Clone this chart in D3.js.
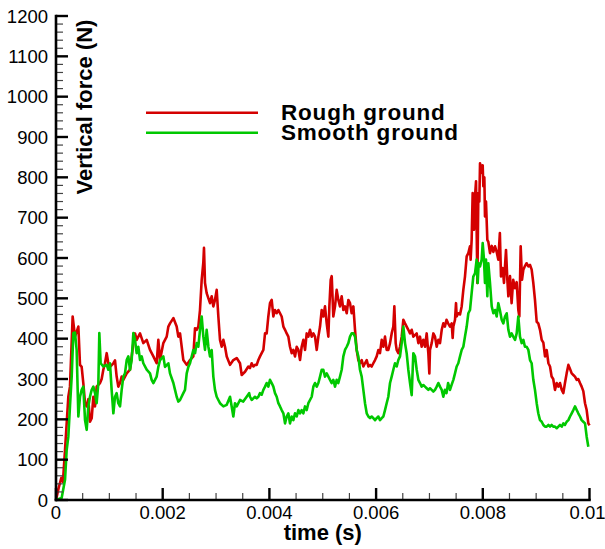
<!DOCTYPE html>
<html>
<head>
<meta charset="utf-8">
<script src="https://cdn.jsdelivr.net/npm/d3@7"></script>
<style>
  html, body { margin: 0; padding: 0; background: #fff; }
  svg { display: block; font-family: "Liberation Sans", Arial, Helvetica, sans-serif; }
</style>
</head>
<body>
<svg id="chart" width="605" height="549"></svg>
<script>
// ---- data (time in ms, force in N) ----
const seriesNames = ["Rough ground", "Smooth ground"];
const seriesColors = ["#d40000", "#00c800"];

const roughTime = [0,0.05,0.1,0.13,0.169,0.231,0.262,0.312,0.356,0.419,0.45,0.481,0.512,0.544,0.575,0.606,0.637,0.669,0.7,0.731,0.762,0.825,0.856,0.887,0.918,0.95,0.981,1.012,1.075,1.106,1.137,1.168,1.2,1.231,1.262,1.325,1.387,1.45,1.481,1.512,1.575,1.637,1.7,1.762,1.825,1.887,1.918,1.95,2.012,2.075,2.106,2.137,2.2,2.262,2.293,2.325,2.356,2.387,2.45,2.512,2.574,2.606,2.637,2.668,2.699,2.731,2.762,2.774,2.793,2.824,2.887,2.918,2.949,2.98,3.012,3.043,3.074,3.106,3.137,3.168,3.2,3.262,3.324,3.387,3.449,3.481,3.543,3.605,
3.636,3.668,3.699,3.73,3.762,3.793,3.824,3.855,3.887,3.918,3.949,3.98,4.011,4.043,4.074,4.105,4.137,4.168,4.199,4.23,4.262,4.293,4.324,4.355,4.386,4.418,4.449,4.48,4.512,4.543,4.574,4.605,4.637,4.668,4.699,4.73,4.761,4.793,4.824,4.855,4.887,4.918,4.949,4.98,5.011,5.042,5.074,5.105,5.124,5.149,5.168,5.198,5.23,5.261,5.292,5.323,5.355,5.386,5.417,5.449,5.48,5.511,5.542,5.574,5.605,5.636,5.667,5.698,5.73,5.761,5.792,5.824,5.855,5.886,5.917,5.948,5.98,6.011,6.042,6.073,6.105,6.136,6.167,6.198,6.229,6.261,6.292,6.323,6.342,6.367,6.386,6.417,6.448,6.48,6.511,6.542,6.573,6.604,6.636,6.667,6.698,6.761,6.792,6.823,6.854,6.885,6.917,6.948,6.979,6.998,7.01,7.042,7.073,7.104,7.136,7.167,
7.198,7.23,7.26,7.29,7.32,7.35,7.385,7.417,7.435,7.448,7.479,7.498,7.51,7.541,7.573,7.604,7.635,7.666,7.698,7.729,7.76,7.772,7.791,7.81,7.835,7.854,7.873,7.898,7.917,7.935,7.948,7.979,7.998,8.01,8.029,8.041,8.06,8.085,8.104,8.135,8.167,8.198,8.229,8.26,8.291,8.32,8.341,8.373,8.397,8.435,8.46,8.479,8.51,8.54,8.57,8.604,8.635,8.666,8.685,8.71,8.735,8.76,8.79,8.82,8.854,8.885,8.916,8.947,8.978,9.01,9.04,9.072,9.104,9.135,9.166,9.197,9.23,9.26,9.29,9.32,9.353,9.385,9.416,9.447,9.48,9.51,9.54,9.572,9.604,9.635,9.666,9.697,9.728,9.76,9.79,9.822,9.853,9.884,9.916,9.947,9.978,10];
const roughForce = [0,30,55,45,124,256,281,455,405,430,335,330,290,240,232,250,194,203,256,232,281,290,300,323,339,364,339,330,339,346,306,281,290,306,298,314,323,389,413,397,413,389,397,372,356,339,397,347,389,405,430,438,451,430,405,413,380,347,335,347,356,426,422,430,471,546,590,625,538,513,488,505,480,496,521,455,397,380,397,380,356,335,347,352,339,310,318,331,
327,339,331,335,335,347,356,364,372,413,413,455,488,496,455,471,463,471,463,455,430,422,413,405,380,364,372,356,380,372,347,380,397,372,413,405,422,405,413,405,372,405,430,471,455,480,438,405,480,546,555,455,480,521,496,480,505,471,480,463,496,488,463,480,422,372,347,339,347,331,339,347,331,335,331,339,347,356,372,364,397,380,405,372,372,389,413,430,480,389,372,364,380,405,447,438,430,422,413,422,405,413,389,405,380,397,380,413,364,314,372,389,413,405,380,397,
389,422,438,430,447,438,430,438,402,430,447,488,455,463,460,480,521,554,604,612,629,596,645,761,670,753,790,538,761,740,835,811,830,778,800,703,740,645,640,612,630,615,629,615,596,662,554,575,538,620,546,505,555,488,546,525,540,471,455,629,546,571,580,587,579,583,571,538,496,442,438,422,397,390,356,372,339,331,306,300,273,290,281,290,273,265,290,314,335,325,314,310,306,298,300,290,281,270,240,223,190,185];

const smoothTime = [0,0.106,0.169,0.2,0.231,0.262,0.294,0.325,0.356,0.387,0.419,0.45,0.481,0.512,0.544,0.575,0.606,0.637,0.669,0.7,0.731,0.762,0.794,0.812,0.837,0.887,0.95,0.981,1.012,1.043,1.075,1.106,1.137,1.168,1.2,1.231,1.262,1.293,1.325,1.356,1.387,1.418,1.45,1.481,1.512,1.543,1.575,1.606,1.637,1.7,1.762,1.793,1.825,1.856,1.887,1.918,1.95,2.012,2.043,2.106,2.137,2.2,2.231,2.262,2.293,2.325,2.387,2.418,2.45,2.481,2.512,2.574,2.606,2.637,2.668,2.699,2.731,2.762,2.793,2.824,2.856,2.887,2.918,2.949,2.98,3.012,3.043,3.074,3.137,3.2,3.262,3.293,3.324,3.355,3.387,3.449,3.51,3.574,3.62,
3.636,3.668,3.699,3.73,3.762,3.793,3.824,3.855,3.887,3.918,3.949,3.98,4.011,4.043,4.074,4.105,4.137,4.168,4.199,4.23,4.262,4.293,4.324,4.355,4.386,4.418,4.449,4.48,4.512,4.543,4.574,4.605,4.637,4.668,4.699,4.73,4.761,4.793,4.824,4.855,4.887,4.918,4.949,4.98,5.011,5.042,5.074,5.105,5.136,5.168,5.198,5.23,5.261,5.292,5.323,5.355,5.386,5.417,5.449,5.48,5.511,5.542,5.574,5.605,5.636,5.667,5.698,5.73,5.761,5.792,5.824,5.855,5.886,5.917,5.948,5.98,6.011,6.042,6.073,6.105,6.136,6.167,6.198,6.229,6.261,6.292,6.323,6.354,6.386,6.417,6.448,6.48,6.511,6.542,6.573,6.604,6.636,6.667,6.698,6.73,6.761,6.792,6.823,6.854,6.885,6.917,6.948,6.979,7.01,7.042,7.073,7.104,7.136,
7.167,7.198,7.23,7.26,7.29,7.32,7.35,7.385,7.417,7.448,7.479,7.51,7.541,7.573,7.604,7.635,7.666,7.698,7.729,7.76,7.791,7.822,7.854,7.885,7.904,7.923,7.948,7.979,7.998,8.022,8.041,8.06,8.085,8.104,8.135,8.167,8.198,8.229,8.26,8.291,8.32,8.354,8.385,8.416,8.448,8.479,8.51,8.54,8.57,8.604,8.635,8.666,8.697,8.729,8.76,8.79,8.82,8.854,8.885,8.916,8.947,8.978,9.01,9.04,9.072,9.104,9.135,9.166,9.197,9.23,9.26,9.29,9.32,9.353,9.385,9.416,9.447,9.48,9.51,9.54,9.572,9.604,9.635,9.666,9.697,9.728,9.76,9.79,9.822,9.853,9.884,9.916,9.947,9.978];
const smoothForce = [0,5,50,124,157,232,306,414,415,372,207,256,273,281,198,174,232,256,273,281,265,240,290,414,339,331,335,323,339,273,215,256,265,240,232,273,306,314,347,356,323,347,414,397,364,380,347,356,339,323,314,298,290,298,306,330,347,356,330,339,314,290,273,256,244,248,265,273,314,330,339,372,364,389,380,422,455,405,372,422,380,356,372,306,273,256,248,240,232,236,256,232,207,240,232,248,244,256,265,
256,248,252,256,252,256,265,261,273,281,290,281,298,290,281,265,256,240,232,223,215,190,207,215,190,207,198,215,207,223,215,223,215,232,223,240,248,256,281,290,281,290,306,323,323,306,314,306,298,290,298,281,298,290,306,323,356,372,380,389,405,413,413,405,372,356,323,306,273,240,215,207,203,207,203,198,203,207,198,203,207,223,240,256,290,306,323,339,331,347,356,389,430,389,364,323,290,260,364,356,323,298,290,281,285,281,277,273,277,273,269,273,281,
290,281,273,256,273,265,290,273,286,298,314,331,339,356,372,380,405,430,463,471,513,554,562,596,538,587,579,596,637,596,538,596,505,587,538,480,463,471,455,488,471,447,438,455,463,422,405,413,405,397,413,455,405,389,397,380,380,372,347,339,298,273,240,215,198,194,186,182,182,186,182,186,182,182,178,182,186,182,190,186,194,198,207,215,223,232,223,215,207,198,194,190,157,132];

// axis ticks
const xMajorTicks = [0, 0.002, 0.004, 0.006, 0.008, 0.01];
const xTickLabels = ["0", "0.002", "0.004", "0.006", "0.008", "0.01"];
const yMajorTicks = [0,100,200,300,400,500,600,700,800,900,1000,1100,1200];
const xTitle = "time (s)";
const yTitle = "Vertical force (N)";

// ---- layout ----
const svg = d3.select("#chart");
const x = d3.scaleLinear().domain([0, 0.01]).range([56, 589.5]);
const y = d3.scaleLinear().domain([0, 1200]).range([500, 16]);

const toPoints = (ts, fs) => ts.map((t, i) => [t / 1000, fs[i]]);
const series = [toPoints(roughTime, roughForce), toPoints(smoothTime, smoothForce)];

const line = d3.line().x(d => x(d[0])).y(d => y(d[1]));

// curves (rough first, smooth on top)
series.forEach((pts, i) => {
  svg.append("path")
    .datum(pts)
    .attr("d", line)
    .attr("fill", "none")
    .attr("stroke", seriesColors[i])
    .attr("stroke-width", 2.6)
    .attr("stroke-linejoin", "round");
});

// minor ticks
const xMinor = d3.range(0, 21).map(i => i * 0.0005).filter(v => !xMajorTicks.some(m => Math.abs(m - v) < 1e-9));
const yMinor = d3.range(0, 61).map(i => i * 20).filter(v => v % 100 !== 0);

const axisG = svg.append("g");
axisG.selectAll(".xminor").data(xMinor).enter().append("line")
  .attr("x1", d => x(d)).attr("x2", d => x(d))
  .attr("y1", y(0)).attr("y2", y(0) - 7)
  .attr("stroke", "#444").attr("stroke-width", 1.2);
axisG.selectAll(".yminor").data(yMinor).enter().append("line")
  .attr("y1", d => y(d)).attr("y2", d => y(d))
  .attr("x1", x(0)).attr("x2", x(0) + 7)
  .attr("stroke", "#444").attr("stroke-width", 1.2);
axisG.selectAll(".xmajor").data(xMajorTicks).enter().append("line")
  .attr("x1", d => x(d)).attr("x2", d => x(d))
  .attr("y1", y(0)).attr("y2", y(0) - 12)
  .attr("stroke", "#000").attr("stroke-width", 2.4);
axisG.selectAll(".ymajor").data(yMajorTicks).enter().append("line")
  .attr("y1", d => y(d)).attr("y2", d => y(d))
  .attr("x1", x(0)).attr("x2", x(0) + 12)
  .attr("stroke", "#000").attr("stroke-width", 2.4);

// axis lines
axisG.append("line").attr("x1", x(0)).attr("x2", x(0.01)).attr("y1", y(0)).attr("y2", y(0))
  .attr("stroke", "#000").attr("stroke-width", 2.6).attr("stroke-linecap", "square");
axisG.append("line").attr("x1", x(0)).attr("x2", x(0)).attr("y1", y(0)).attr("y2", y(1200))
  .attr("stroke", "#000").attr("stroke-width", 2.6).attr("stroke-linecap", "square");

// tick labels
axisG.selectAll(".xlab").data(xMajorTicks).enter().append("text")
  .attr("x", (d, i) => i === xMajorTicks.length - 1 ? x(d) - 2 : x(d)).attr("y", 519)
  .attr("text-anchor", "middle").attr("font-size", 18.5).attr("fill", "#000")
  .text((d, i) => xTickLabels[i]);
axisG.selectAll(".ylab").data(yMajorTicks).enter().append("text")
  .attr("x", 48).attr("y", d => y(d)).attr("dy", "0.36em")
  .attr("text-anchor", "end").attr("font-size", 18.5).attr("fill", "#000")
  .text(d => d);

// axis titles
svg.append("text").attr("x", (x(0) + x(0.01)) / 2).attr("y", 540)
  .attr("text-anchor", "middle").attr("font-size", 22).attr("font-weight", "bold")
  .text(xTitle);
svg.append("text").attr("transform", "translate(92,107) rotate(-90)")
  .attr("text-anchor", "middle").attr("font-size", 22).attr("font-weight", "bold")
  .text(yTitle);

// legend
const legendY = [112.7, 132.7];
const legendTextY = [120, 140];
seriesNames.forEach((name, i) => {
  svg.append("line").attr("x1", 146).attr("x2", 258)
    .attr("y1", legendY[i]).attr("y2", legendY[i])
    .attr("stroke", seriesColors[i]).attr("stroke-width", 2.6);
  svg.append("text").attr("x", 281).attr("y", legendTextY[i])
    .attr("font-size", 22.5).attr("font-weight", "bold")
    .attr("letter-spacing", "0.8px")
    .text(name);
});
</script>
</body>
</html>
